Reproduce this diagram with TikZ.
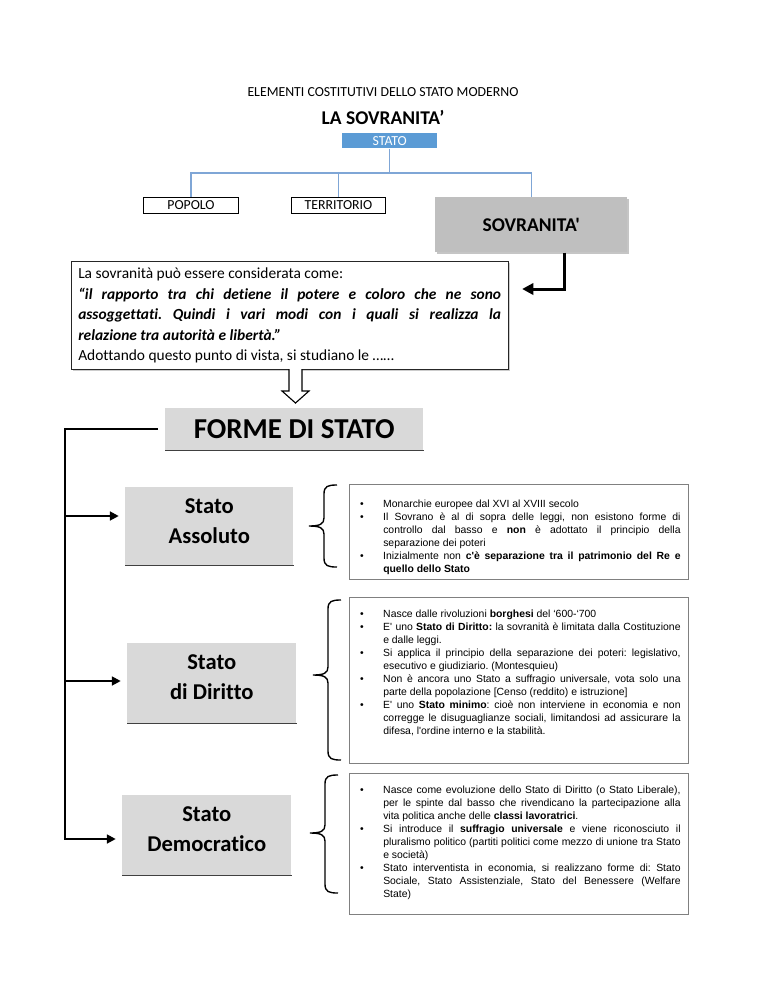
\documentclass[tikz,border=0pt]{standalone}
\usepackage{fontspec}
\setmainfont{Carlito}[Ligatures={TeXOff,CommonOff}]
\newfontfamily\arialf{Liberation Sans}[Ligatures={TeXOff,CommonOff}]
\usetikzlibrary{arrows.meta,shadows,calc}
\definecolor{stblue}{HTML}{5B9BD5}
\definecolor{lnblue}{HTML}{7FA6D6}
\definecolor{sovgray}{HTML}{BFBFBF}
\definecolor{boxgray}{HTML}{D9D9D9}
\definecolor{bordgray}{HTML}{808080}
\newcommand\pxs{0.797pt}
\newcommand\bul{\par\noindent\llap{•\hspace{15.5pt}}}
\newcommand\curlyb[4]{% #1 x end, #2 top, #3 tip, #4 bottom
  \draw[bracel] (#1,#2) .. controls (#1-9,#2) and (#1-13,#2+1) .. (#1-13,#2+9)
    -- (#1-13,#3-8) .. controls (#1-13,#3-2) and (#1-17,#3) .. (#1-28,#3)
    .. controls (#1-17,#3) and (#1-13,#3+2) .. (#1-13,#3+8)
    -- (#1-13,#4-9) .. controls (#1-13,#4-1) and (#1-9,#4) .. (#1,#4);}
\tikzset{
  smallbox/.style={draw=black, line width=0.8pt, inner sep=0pt, minimum height=16*\pxs, font=\fontsize{11}{13}\selectfont, anchor=north west},
  blueline/.style={draw=lnblue, line width=1.1pt},
  graybox/.style={fill=boxgray, inner sep=0pt, anchor=north west},
  botline/.style={draw=black!75, line width=1.2pt},
  statolbl/.style={font=\bfseries\fontsize{18}{23.5}\selectfont, align=center, inner sep=0pt},
  listbox/.style={draw=bordgray, line width=0.9pt, inner sep=0pt, anchor=north west, minimum width=339*\pxs},
  listtxt/.style={anchor=north west, inner sep=0pt, text width=237pt, align=justify,
    font=\arialf\fontsize{8.3}{10.36}\selectfont,
    execute at begin node={\frenchspacing\hyphenpenalty=10000 \exhyphenpenalty=10000 \tolerance=10000 \hbadness=10000}},
  conn/.style={line width=1.6pt, draw=black},
  conntip/.style={-{Triangle[length=7pt,width=7pt]}, shorten >=5pt},
  bracel/.style={line width=1.1pt, draw=black},
}
\begin{document}
\begin{tikzpicture}[x=0.797pt,y=-0.797pt]
\fill[white] (0,0) rectangle (768,994);
\path[use as bounding box] (0,0) rectangle (768,994);

% titles
\node[font=\fontsize{11}{13}\selectfont] (title) at (383,92) {ELEMENTI COSTITUTIVI DELLO STATO MODERNO};
\node[font=\bfseries\fontsize{15.5}{18}\selectfont] (sovtitle) at (383,117) {LA SOVRANITA’};

% stato tree
\node[fill=stblue, text=white, font=\fontsize{11}{13}\selectfont, minimum width=95*\pxs, minimum height=15*\pxs, inner sep=0pt, anchor=north west] (stato) at (342,133) {STATO};
\node[smallbox, minimum width=95*\pxs] (popolo) at (143,197) {POPOLO};
\node[smallbox, minimum width=94*\pxs] (territorio) at (291,197) {TERRITORIO};
\node[fill=sovgray, drop shadow={shadow xshift=1.5pt, shadow yshift=-1.5pt, opacity=0.45}, minimum width=192*\pxs, minimum height=55*\pxs, inner sep=0pt, anchor=north west, font=\bfseries\fontsize{15.5}{18}\selectfont] (sov) at (435,197) {SOVRANITA'};

\coordinate (bus) at (0,173);
\draw[blueline] (stato.south) -- (stato.south |- bus);
\draw[blueline] (popolo.north) |- (sov.north |- bus) -- (sov.north);
\draw[blueline] (territorio.north) -- (territorio.north |- bus);

% text box
\node[draw=black!85, line width=0.9pt, fill=white, drop shadow={shadow xshift=1.3pt, shadow yshift=-1.3pt, opacity=0.4}, minimum width=437*\pxs, minimum height=108*\pxs, inner sep=0pt, anchor=north west] (txt) at (71,261) {};
\node[anchor=north west, inner sep=0pt, text width=337pt, align=justify, font=\fontsize{12.3}{16.3}\selectfont, execute at begin node={\frenchspacing\hyphenpenalty=10000 \tolerance=10000}] (txtin) at (78,268) {La sovranità può essere considerata come:\par
{\bfseries\itshape “il rapporto tra chi detiene il potere e coloro che ne sono\linebreak assoggettati. Quindi i vari modi con i quali si realizza la\linebreak relazione tra autorità e libertà.”\par}
Adottando questo punto di vista, si studiano le ……};

\coordinate (elb) at (0,289);
\draw[line width=2.4pt, -{Triangle[length=9pt,width=9pt]}] ($(sov.south)+(33,0)$) |- ($(txt.east |- elb)+(13,0)$);

% hollow arrow
\draw[line width=0.9pt, fill=white] (289,369) -- (289,391) -- (282,391) -- (295.5,403) -- (309,391) -- (302,391) -- (302,369);

% forme di stato
\node[graybox, minimum width=258*\pxs, minimum height=42*\pxs, font=\bfseries\fontsize{23}{27}\selectfont] (forme) at (165,408) {FORME DI STATO};
\draw[botline] (forme.south west) -- (forme.south east);

% stato boxes
\node[graybox, minimum width=168*\pxs, minimum height=78*\pxs] (assol) at (125,487) {};
\draw[botline] (assol.south west) -- (assol.south east);
\node[statolbl] (assoll) at ($(assol.center)+(0,-5)$) {Stato\\Assoluto};

\node[graybox, minimum width=169*\pxs, minimum height=80*\pxs] (dirit) at (127,643) {};
\draw[botline] (dirit.south west) -- (dirit.south east);
\node[statolbl] (diritl) at ($(dirit.center)+(0,-6)$) {Stato\\di Diritto};

\node[graybox, minimum width=169*\pxs, minimum height=80*\pxs] (democ) at (122,795) {};
\draw[botline] (democ.south west) -- (democ.south east);
\node[statolbl] (democl) at ($(democ.center)+(0,-6)$) {Stato\\Democratico};

% left connectors
\coordinate (a1) at (65,516);
\coordinate (a2) at (65,681);
\coordinate (a3) at (65,839);
\draw[conn, conntip] ([xshift=-7*\pxs]forme.west) -| (a3) -- (a3 -| democ.west);
\draw[conn, conntip] (a1) -- (a1 -| assol.west);
\draw[conn, conntip] (a2) -- (a2 -| dirit.west);

% braces
\curlyb{337}{485}{526}{567}
\curlyb{341}{600}{675}{760}
\curlyb{338}{775}{833}{893}

% list boxes
\node[listbox, minimum height=95*\pxs] (lb1) at (349,484) {};
\node[listtxt] (lt1) at (383,494) {%
\bul Monarchie europee dal XVI al XVIII secolo
\bul Il Sovrano è al di sopra delle leggi, non esistono forme di\linebreak controllo dal basso e \textbf{non} è adottato il principio della\linebreak separazione dei poteri
\bul Inizialmente non \textbf{c'è separazione tra il patrimonio del Re e\linebreak quello dello Stato}};

\node[listbox, minimum height=166*\pxs] (lb2) at (349,597) {};
\node[listtxt] (lt2) at (383,604) {%
\bul Nasce dalle rivoluzioni \textbf{borghesi} del ‘600-‘700
\bul E' uno \textbf{Stato di Diritto:} la sovranità è limitata dalla Costituzione\linebreak e dalle leggi.
\bul Si applica il principio della separazione dei poteri: legislativo,\linebreak esecutivo e giudiziario. (Montesquieu)
\bul Non è ancora uno Stato a suffragio universale, vota solo una\linebreak parte della popolazione [Censo (reddito) e istruzione]
\bul E' uno \textbf{Stato minimo}: cioè non interviene in economia e non\linebreak corregge le disuguaglianze sociali, limitandosi ad assicurare la\linebreak difesa, l'ordine interno e la stabilità.};

\node[listbox, minimum height=141*\pxs] (lb3) at (349,773) {};
\node[listtxt] (lt3) at (383,780) {%
\bul Nasce come evoluzione dello Stato di Diritto (o Stato Liberale),\linebreak per le spinte dal basso che rivendicano la partecipazione alla\linebreak vita politica anche delle \textbf{classi lavoratrici}.
\bul Si introduce il \textbf{suffragio universale} e viene riconosciuto il\linebreak pluralismo politico (partiti politici come mezzo di unione tra Stato\linebreak e società)
\bul Stato interventista in economia, si realizzano forme di: Stato\linebreak Sociale, Stato Assistenziale, Stato del Benessere (Welfare\linebreak State)};
\end{tikzpicture}
\end{document}
